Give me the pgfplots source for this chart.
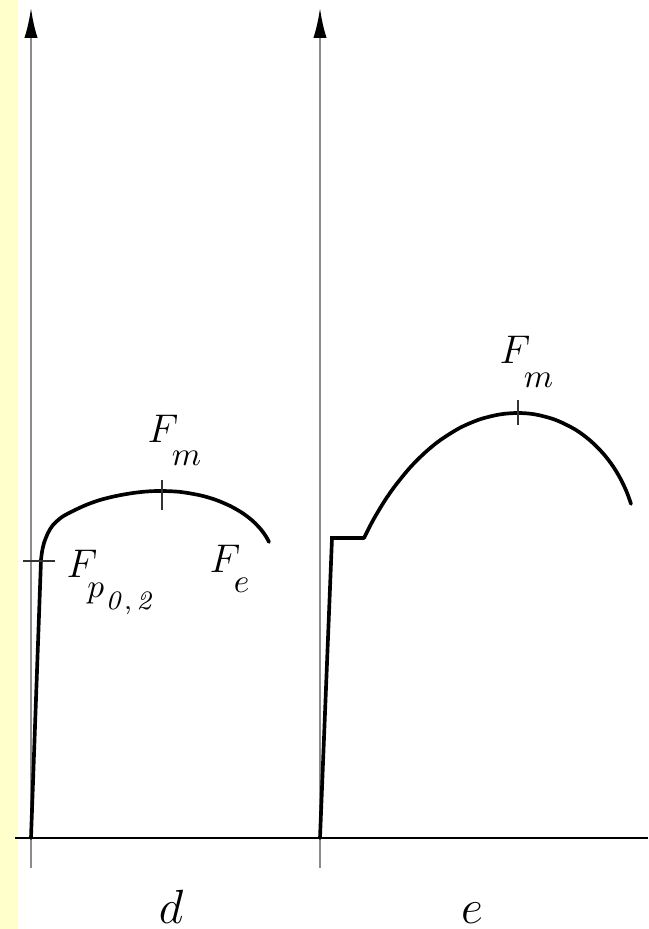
\documentclass[border=0pt]{standalone}
\usepackage{pgfplots}
\pgfplotsset{compat=1.18}
\usetikzlibrary{arrows.meta}
\definecolor{strip}{RGB}{255,255,204}
\definecolor{axisgray}{RGB}{140,140,140}

\begin{document}
\begin{tikzpicture}
\begin{axis}[
  scale only axis,
  width=194.4pt, height=278.7pt,
  xmin=0, xmax=648, ymin=0, ymax=929,
  hide axis, clip=false,
]
  % background and left strip
  \addplot[draw=none, fill=white] coordinates {(0,929) (648,929)} \closedcycle;
  \addplot[draw=none, fill=strip] coordinates {(0,929) (18,929)} \closedcycle;

  % axes
  \addplot[axisgray, line width=0.7pt, -{Latex[length=9pt,width=4pt,color=black]}]
    coordinates {(31,61) (31,921)};
  \addplot[axisgray, line width=0.7pt, -{Latex[length=9pt,width=4pt,color=black]}]
    coordinates {(320,61) (320,921)};
  \addplot[black, line width=0.6pt] coordinates {(15,91) (648,91)};

  % curve d
  \addplot[black, line width=1.1pt, line cap=round] coordinates {(31,91) (41,369)};
  \addplot[black, line width=1.1pt, line cap=round, smooth] coordinates {
    (41,369) (42,377) (44,386) (48,396) (53,404) (62,412) (73,418) (86,424)
    (100,429) (116,433) (133,436) (148,437.6) (162,438) (180,437.1)
    (200,433.7) (215,429.4) (230,423.1) (243,415.6) (253,407.8) (261,399.5)
    (266,392.5) (269,387)
  };

  % curve e
  \addplot[black, line width=1.1pt, line cap=round, line join=miter]
    coordinates {(320,91) (332,391) (364,391)};
  \addplot[black, line width=1.1pt, line cap=round, smooth] coordinates {
    (364,391) (370,403) (376,413.9) (385,428.7) (395,443) (410,461.4)
    (425,476.4) (440,488.7) (460,501.2) (480,509.7) (500,514.6) (518,516)
    (535,514.6) (555,509.3) (575,499.6) (590,488.6) (603,475.7) (613,462.7)
    (621,449.3) (627,436.3) (631,425.1)
  };

  % marks on the curves
  \addplot[black!80, line width=0.4pt] coordinates {(162,419) (162,449)};
  \addplot[black!80, line width=0.4pt] coordinates {(23,368) (55,368)};
  \addplot[black!80, line width=0.4pt] coordinates {(518,504) (518,529)};

  % labels
  \node[anchor=base west, inner sep=0pt] at (axis cs:147,486)
    {\fontsize{13}{15}\selectfont$F$\kern-2pt\raisebox{-6.8pt}{\fontsize{10}{12}\selectfont$m$}};
  \node[anchor=base west, inner sep=0pt] at (axis cs:499,565)
    {\fontsize{13}{15}\selectfont$F$\kern-2pt\raisebox{-7.2pt}{\fontsize{10}{12}\selectfont$m$}};
  \node[anchor=base west, inner sep=0pt] at (axis cs:66,351)
    {\fontsize{13}{15}\selectfont$F$\kern-3pt\raisebox{-6pt}{\fontsize{10}{12}\selectfont$p$}\kern0.5pt\raisebox{-9.6pt}{\fontsize{8}{10}\selectfont$\mathit{0,2}$}};
  \node[anchor=base west, inner sep=0pt] at (axis cs:209,356)
    {\fontsize{13}{15}\selectfont$F$\kern-2pt\raisebox{-6pt}{\fontsize{10}{12}\selectfont$e$}};
  \node[anchor=base, inner sep=0pt] at (axis cs:171,6) {\fontsize{14}{16}\selectfont$d$};
  \node[anchor=base, inner sep=0pt] at (axis cs:472,6) {\fontsize{14}{16}\selectfont$e$};
\end{axis}
\end{tikzpicture}
\end{document}
